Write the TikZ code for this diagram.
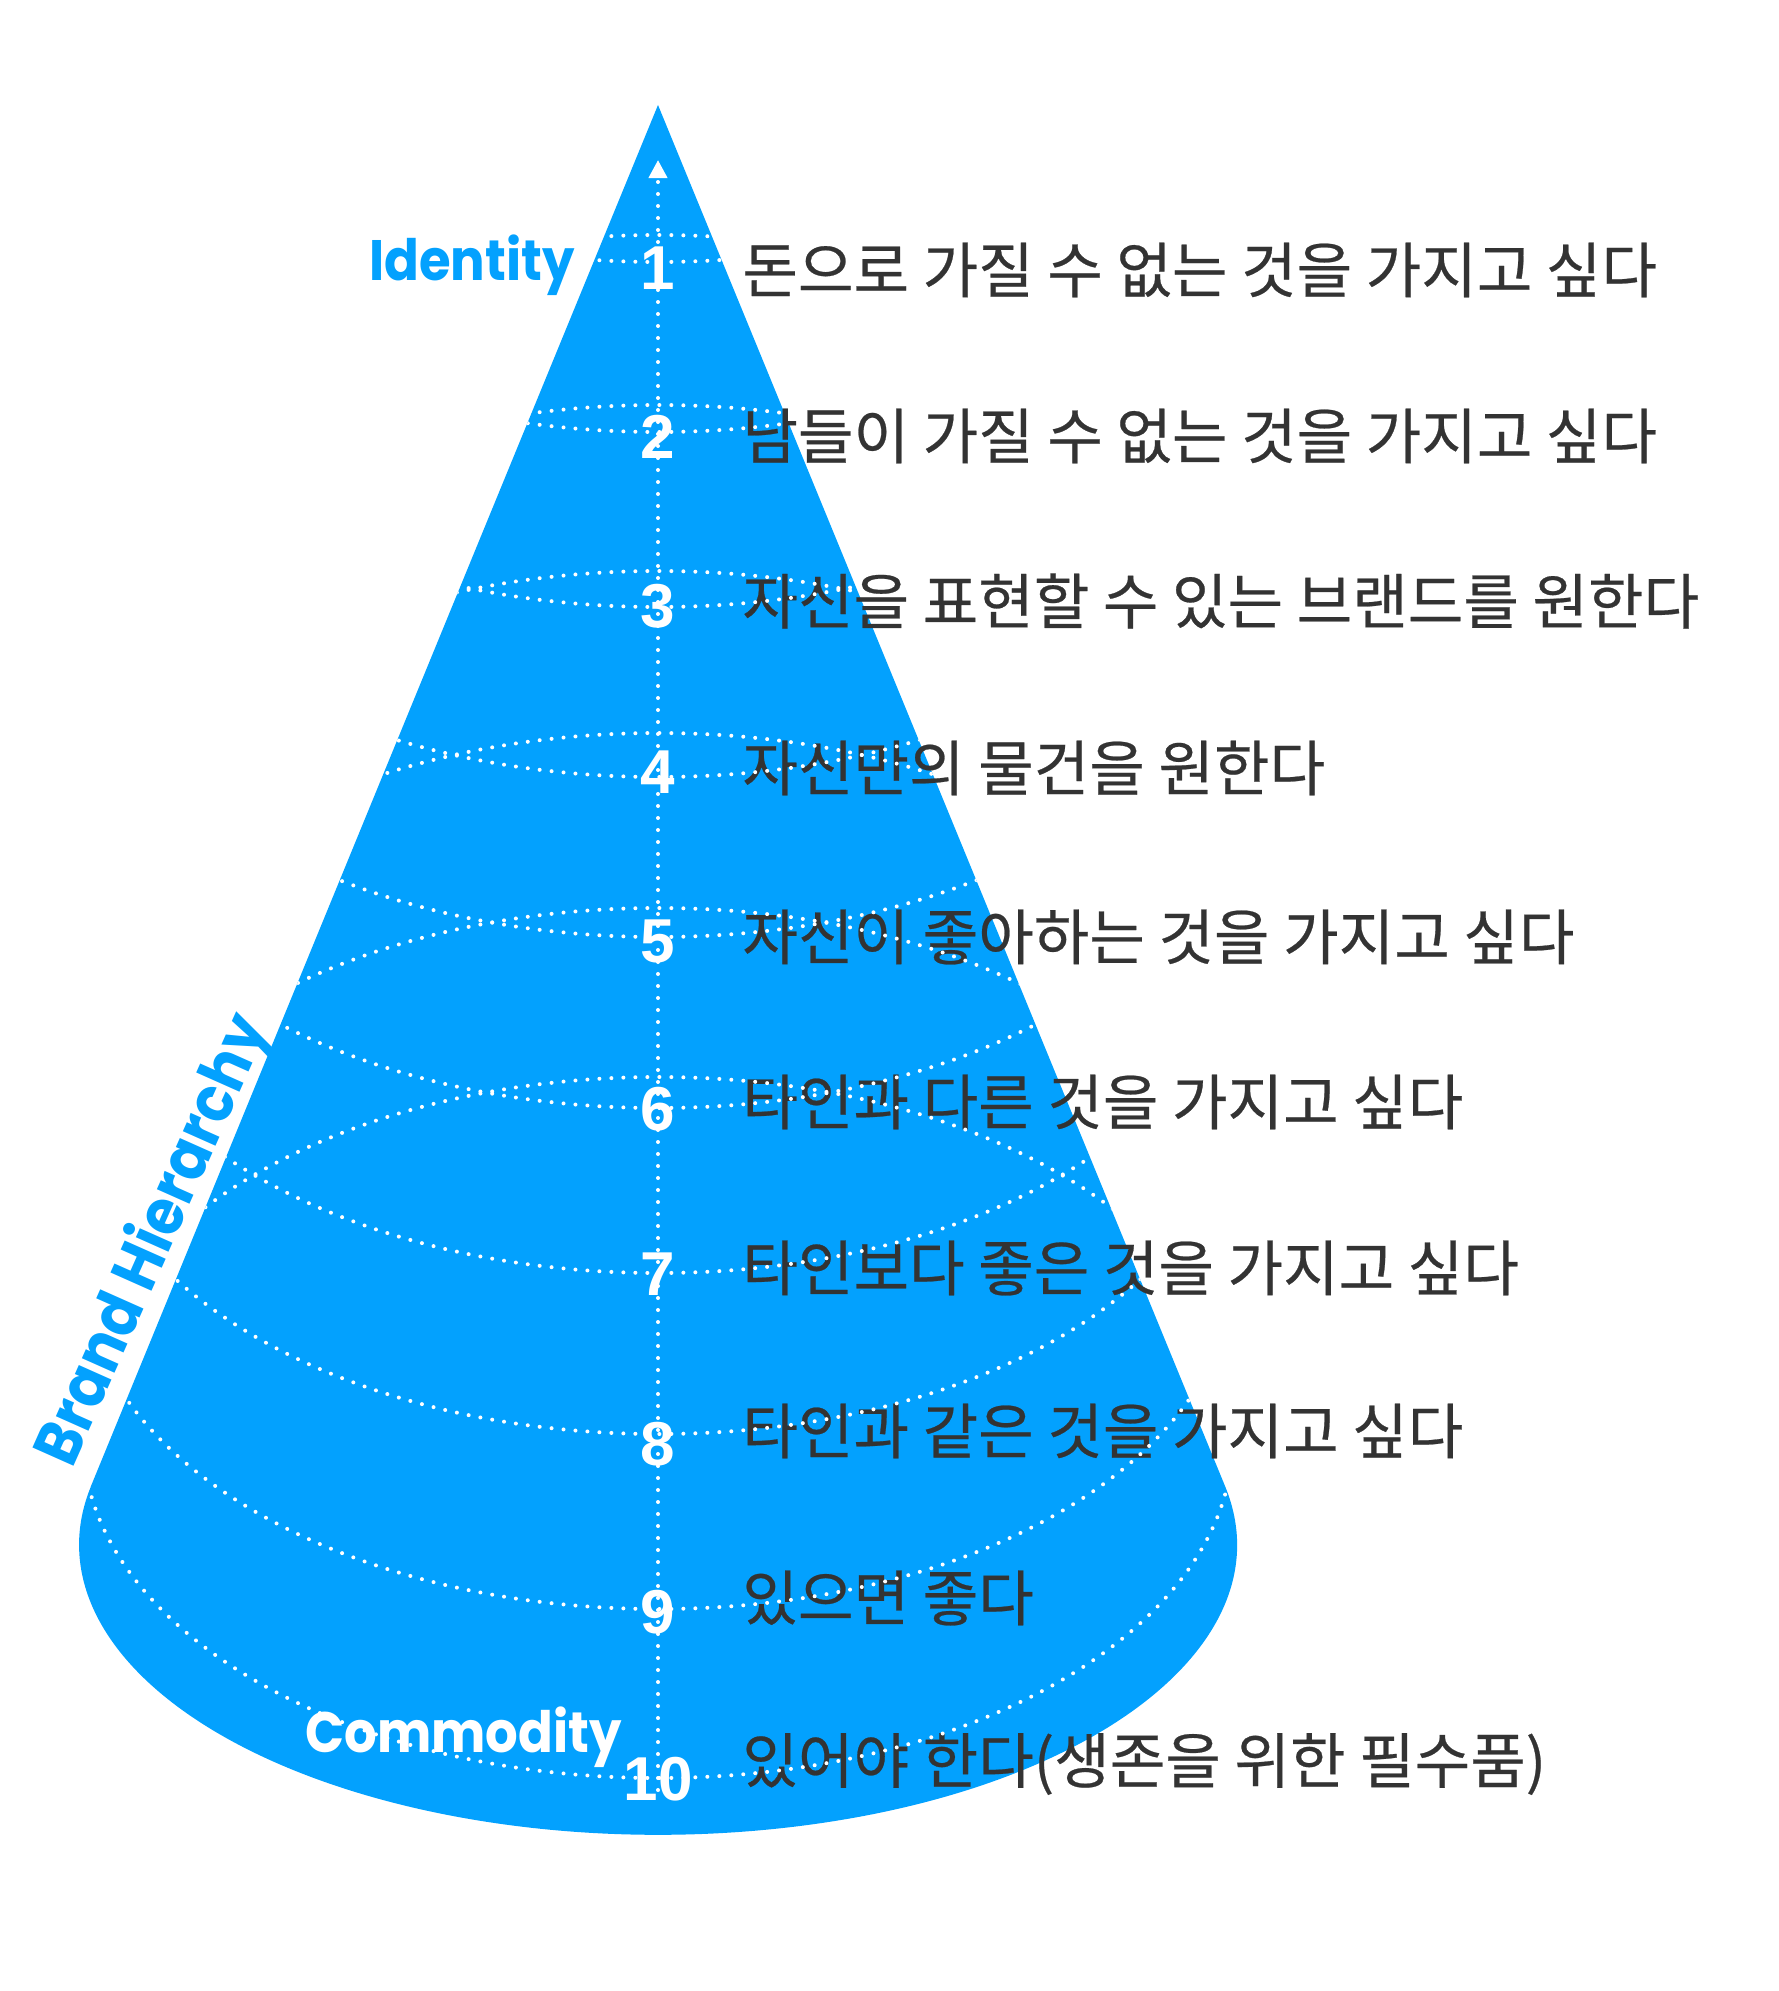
\documentclass[tikz,border=0pt]{standalone}
\usepackage{fontspec}
\usetikzlibrary{arrows.meta}
\newfontfamily\krfont{Noto Sans CJK KR}[FakeBold=0.4]
\newfontfamily\numfont{Liberation Sans}
\newfontfamily\labfont{Poppins}[FakeStretch=0.9]
\definecolor{coneblue}{HTML}{03A1FE}
\definecolor{txtgray}{HTML}{333333}
\begin{document}
\begin{tikzpicture}[x=0.5pt,y=-0.5pt,
  conepath/.style={insert path={(90.6,1487) -- (658,105) -- (1225.4,1487)
      arc[start angle=-11.5, end angle=191.5, x radius=579, y radius=290] -- cycle}},
  dots/.style={white, line width=2pt, line cap=round, dash pattern=on 0pt off 6pt},
  lvltext/.style={anchor=west, text=txtgray, inner sep=0pt,
      font=\krfont\fontsize{30.2}{36}\selectfont},
  num/.style={text=white, inner sep=0pt, font=\numfont\bfseries\fontsize{31}{36}\selectfont},
  lab/.style={inner sep=0pt, font=\labfont\bfseries\fontsize{28.5}{34}\selectfont},
]
\useasboundingbox (0,0) rectangle (1778,1991);
% cone
\fill[coneblue, conepath];

% level texts
\node[lvltext] (t1) at (742,270) {돈으로 가질 수 없는 것을 가지고 싶다};
\node[lvltext] (t2) at (742,436) {남들이 가질 수 없는 것을 가지고 싶다};
\node[lvltext] (t3) at (742,601) {자신을 표현할 수 있는 브랜드를 원한다};
\node[lvltext] (t4) at (742,768) {자신만의 물건을 원한다};
\node[lvltext] (t5) at (742,937) {자신이 좋아하는 것을 가지고 싶다};
\node[lvltext] (t6) at (742,1102) {타인과 다른 것을 가지고 싶다};
\node[lvltext] (t7) at (742,1268) {타인보다 좋은 것을 가지고 싶다};
\node[lvltext] (t8) at (742,1431) {타인과 같은 것을 가지고 싶다};
\node[lvltext] (t9) at (742,1598) {있으면 좋다};
\node[lvltext] (t10) at (742,1764) {있어야 한다(생존을 위한 필수품)};

% dotted rings, clipped to the cone
\begin{scope}
\clip[conepath];
\foreach \yu in {235,405,571,733,908,1077}{
  \draw[dots] (83,\yu+340) arc[start angle=180, end angle=360, x radius=575, y radius=340];
}
\foreach \yl in {262,432,607,777,937,1108,1273,1434,1609,1778}{
  \draw[dots] (83,\yl-340) arc[start angle=180, end angle=0, x radius=575, y radius=340];
}
\end{scope}

% axis
\coordinate (axbot) at (658,1790);
\coordinate (axtop) at (658,160);
\draw[dots, -{Triangle[width=9pt,length=9pt]}] (axbot) -- (axtop);

% numbers
\node[num] (n1) at (658,268) {1};
\node[num] (n2) at (658,437) {2};
\node[num] (n3) at (658,606) {3};
\node[num] (n4) at (658,772) {4};
\node[num] (n5) at (658,941) {5};
\node[num] (n6) at (658,1109) {6};
\node[num] (n7) at (658,1274) {7};
\node[num] (n8) at (658,1444) {8};
\node[num] (n9) at (658,1612) {9};
\node[num] (n10) at (658,1779) {10};

% side labels
\node[lab, text=coneblue, anchor=base west] (identity) at (369,280) {Identity};
\node[lab, text=white, anchor=base west] (commodity) at (305,1752) {Commodity};
\node[lab, text=coneblue, anchor=base west, rotate=66, font=\labfont\bfseries\fontsize{32}{38}\selectfont] (brand) at (72,1470) {Brand Hierarchy};
\end{tikzpicture}
\end{document}
